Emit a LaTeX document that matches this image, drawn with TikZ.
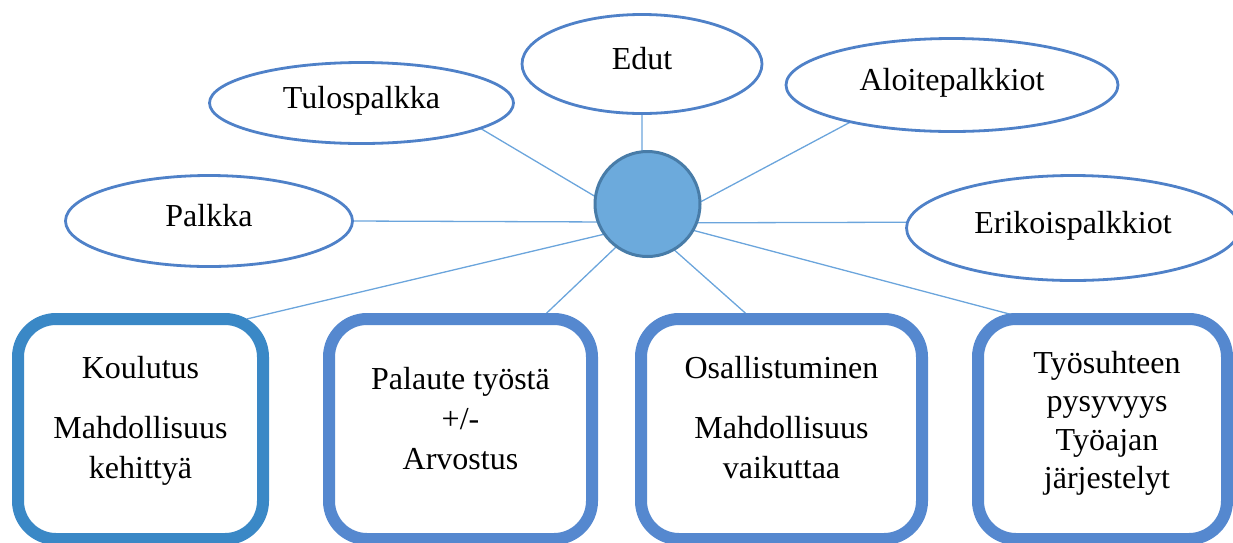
\documentclass[tikz,border=0pt]{standalone}
\usepackage{fontspec}
\setmainfont{Liberation Serif}
\usetikzlibrary{shapes.geometric,backgrounds}
\definecolor{ellc}{RGB}{79,129,200}
\definecolor{linkc}{RGB}{107,165,220}
\definecolor{hubf}{RGB}{108,170,220}
\definecolor{hubd}{RGB}{72,124,168}
\definecolor{boxa}{RGB}{58,136,198}
\definecolor{boxb}{RGB}{85,136,207}
\begin{document}
\begin{tikzpicture}[x=1pt,y=-1pt,
  ell/.style={ellipse,draw=ellc,line width=2.8pt,fill=white,inner sep=0pt,outer sep=0pt,
    text height=22pt,text depth=11pt,font=\fontsize{32}{40}\selectfont},
  hub/.style={circle,draw=hubd,fill=hubf,line width=3pt,minimum size=105pt,inner sep=0pt,outer sep=0pt},
  box/.style={rectangle,draw=boxb,line width=12pt,rounded corners=38pt,inner sep=0pt,outer sep=0pt,fill=white,minimum height=220pt},
  btext/.style={align=center,inner sep=0pt,font=\fontsize{32}{40}\selectfont},
  link/.style={draw=linkc,line width=1.3pt}]
\useasboundingbox (0,0) rectangle (1233,542);

% ellipses
\node[ell,minimum width=240pt,minimum height=99pt] (edut) at (642,64) {Edut};
\node[ell,minimum width=304pt,minimum height=81pt] (tulo) at (361.5,103) {Tulospalkka};
\node[ell,minimum width=332pt,minimum height=93pt] (aloi) at (952,85) {Aloitepalkkiot};
\node[ell,minimum width=287pt,minimum height=91pt] (palk) at (209,221) {Palkka};
\node[ell,minimum width=333pt,minimum height=105pt] (erik) at (1073,228) {Erikoispalkkiot};

% hub
\node[hub] (hub) at (647.5,204) {};

% boxes
\node[box,draw=boxa,minimum width=245pt] (b1) at (140.5,429) {};
\node[box,minimum width=263pt] (b2) at (460.5,429) {};
\node[box,minimum width=281pt] (b3) at (781.5,429) {};
\node[box,minimum width=249pt] (b4) at (1102.5,429) {};

\node[btext] (t1) at (140.5,420.5) {Koulutus\\[20pt]Mahdollisuus\\kehittyä};
\node[btext] (t2) at (460.5,419) {Palaute työstä\\+/-\\Arvostus};
\node[btext] (t3) at (781.5,418) {Osallistuminen\\[20pt]Mahdollisuus\\vaikuttaa};
\node[btext,font=\fontsize{32}{38.5}\selectfont] (t4) at (1107,423.5) {Työsuhteen\\pysyvyys\\Työajan\\järjestelyt};

% connectors
\begin{pgfonlayer}{background}
\draw[link] (edut.south) -- (hub.96.9);
\draw[link] (tulo.-12) -- (hub.172.7);
\draw[link] (aloi.-160) -- (hub.2);
\draw[link] (palk.east) -- (hub.200);
\draw[link] (erik.178.3) -- (hub.-21.2);
\draw[link] (b1.46.4) -- (hub.215);
\draw[link] (b2.54.4) -- (hub.234.8);
\draw[link] (b3.105.4) -- (hub.-60.7);
\draw[link] (b4.124.9) -- (hub.-30.5);
\end{pgfonlayer}
\end{tikzpicture}
\end{document}
